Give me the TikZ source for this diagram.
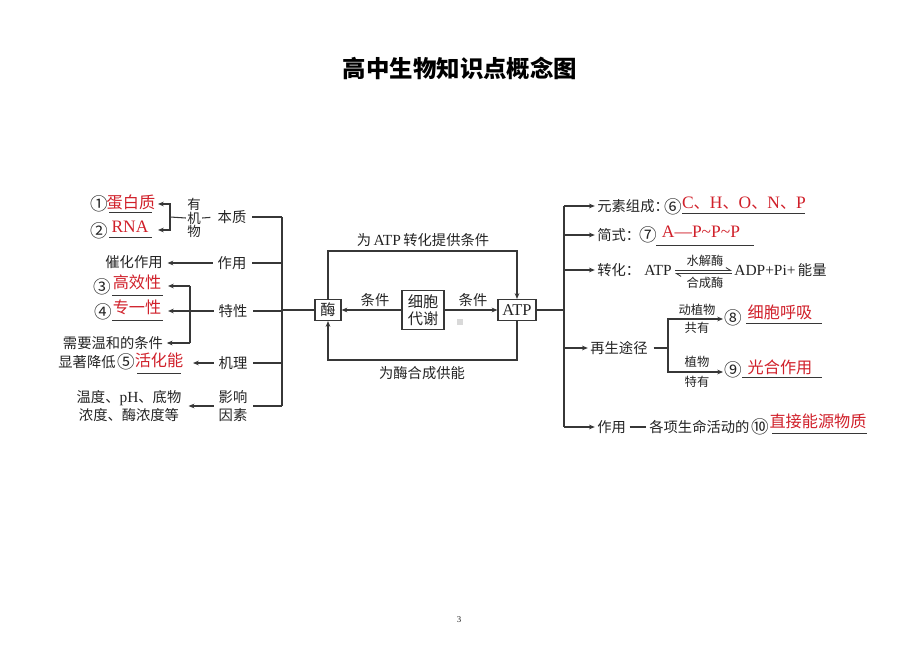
\documentclass[tikz,border=0pt]{standalone}
\usepackage{fontspec}
\setmainfont{Noto Sans CJK SC}
\newfontfamily\latfont[Scale=1.08]{Liberation Serif}
\usetikzlibrary{arrows.meta,positioning}
\definecolor{inkcol}{RGB}{35,35,35}
\definecolor{anscol}{RGB}{208,32,42}
\definecolor{linecol}{RGB}{55,55,55}
\newcommand{\lat}[1]{{\latfont #1}}

\begin{document}
\begin{tikzpicture}[x=0.03cm, y=-0.03cm,
  lbl/.style={font=\fontsize{12.2}{15}\selectfont, text=inkcol, inner sep=1pt},
  circ/.style={font=\fontsize{15}{16}\selectfont, text=inkcol, inner sep=0pt},
  tiny/.style={font=\fontsize{10.5}{12}\selectfont, text=inkcol, inner sep=1pt},
  ans/.style={font=\fontsize{13.8}{16}\selectfont, text=anscol, inner sep=1pt},
  box/.style={draw=linecol, line width=0.9pt, font=\fontsize{13}{15}\selectfont, text=inkcol, inner sep=1pt, align=center},
  conn/.style={draw=linecol, line width=0.9pt},
  arr/.style={conn, -{Stealth[length=5pt, width=4pt]}},
  blank/.style={draw=linecol, line width=0.7pt}
]
% Set the page size
\useasboundingbox (0,0) rectangle (920,651);
\node[font=\fontsize{20}{24}\selectfont\bfseries] (title) at (460,68) {高中生物知识点概念图};
\node[font=\fontsize{7}{8}\selectfont, text=inkcol] (pagenum) at (459,620) {\lat{3}};

% Left branch: enzyme
\coordinate (lt) at (282,0);
\node[lbl] (benzhi) at (232,217) {本质};
\node[lbl, font=\fontsize{11.5}{11.8}\selectfont, align=center] (youji) at (194,218) {有\\机\\物};
\node[circ] (c1) at (99,204) {①};
\node[ans] (a1) at (131,202) {蛋白质};
\node[circ] (c2) at (99,231) {②};
\node[ans] (a2) at (130,227) {\lat{RNA}};
\draw[blank] (109,212) -- (152,212);
\draw[blank] (109,237) -- (152,237);
\coordinate (b1) at (170,217);
\coordinate (t1) at (158,204);
\coordinate (t2) at (158,230);
\draw[conn] (youji.west) -- (b1);
\draw[arr] (b1) |- (t1);
\draw[arr] (b1) |- (t2);
\draw[conn, shorten >=5pt] (youji.east) -- (benzhi.west);

\node[lbl] (zuoyong) at (232,263) {作用};
\node[lbl] (cuihua) at (134,262) {催化作用};
\draw[arr, shorten <=3pt, shorten >=3pt] (zuoyong.west) -- (zuoyong.west -| cuihua.east);

\node[lbl] (texing) at (233,311) {特性};
\node[circ] (c3) at (102,287) {③};
\node[ans] (a3) at (137,282) {高效性};
\node[circ] (c4) at (103,312) {④};
\node[ans] (a4) at (137,307) {专一性};
\node[lbl] (wenhe) at (113,343) {需要温和的条件};
\draw[blank] (112,295) -- (163,295);
\draw[blank] (112,320) -- (163,320);
\coordinate (t4) at (168,311);
\coordinate (b3) at (190,286);
\coordinate (b4) at (190,343);
\coordinate (t3) at (168,286);
\draw[arr, shorten <=3pt] (texing.west) -- (t4);
\draw[conn] (b3) -- (b4);
\draw[arr] (b3) -- (t3);
\draw[arr, shorten >=2pt] (b4) -- (wenhe.east);

\node[lbl] (jili) at (233,363) {机理};
\node[lbl] (xianzhu) at (87,362) {显著降低};
\node[circ] (c5) at (126,362) {⑤};
\node[ans] (a5) at (159,360) {活化能};
\draw[blank] (137,373) -- (181,373);
\coordinate (t5) at (193,363);
\draw[arr, shorten <=3pt] (jili.west) -- (t5);

\node[lbl, align=center, font=\fontsize{12.2}{16}\selectfont] (yingxiang) at (233,406) {影响\\因素};
\node[lbl, align=center, font=\fontsize{12.2}{16}\selectfont] (wendu) at (129,406) {温度、\lat{pH}、底物\\浓度、酶浓度等};
\draw[arr, shorten <=3pt, shorten >=5pt] (yingxiang.west) -- (yingxiang.west -| wendu.east);

\foreach \n in {benzhi,zuoyong,texing,jili,yingxiang}
  \draw[conn, shorten <=4pt] (\n.east) -- (\n.east -| lt);
\draw[conn] (benzhi.east -| lt) -- (yingxiang.east -| lt);

% Middle: enzyme, metabolism and ATP
\node[box, minimum width=0.78cm, minimum height=0.63cm] (mei) at (328,310) {酶};
\node[box, minimum width=1.26cm, minimum height=1.17cm] (daixie) at (423,310) {细胞\\代谢};
\node[box, minimum width=1.14cm, minimum height=0.63cm] (atp) at (517,310) {\lat{ATP}};
\draw[conn] (mei.west -| lt) -- (mei.west);
\coordinate (looptop) at (0,251);
\coordinate (loopbot) at (0,360);
\draw[arr] (mei.north) -- (mei.north |- looptop) -| (atp.north);
\draw[arr] (atp.south) -- (atp.south |- loopbot) -| (mei.south);
\node[lbl] (toplbl) at (423,240) {为\,\lat{ATP}\,转化提供条件};
\node[lbl] (botlbl) at (422,373) {为酶合成供能};
\draw[arr] (daixie.west) -- (mei.east);
\draw[arr] (daixie.east) -- (atp.west);
\node[lbl] (tj1) at (375,300) {条件};
\node[lbl] (tj2) at (473,300) {条件};
\fill[gray!30] (457,319) rectangle (463,325);

% Right branch: ATP
\coordinate (rt) at (564,0);
\draw[conn] (atp.east) -- (atp.east -| rt);
\node[lbl, anchor=west] (yuansu) at (596,206) {元素组成：};
\node[circ] (c6) at (673,207) {⑥};
\node[ans] (a6) at (744,203) {\lat{C}、\lat{H}、\lat{O}、\lat{N}、\lat{P}};
\draw[blank] (682,213) -- (805,213);

\node[lbl, anchor=west] (jianshi) at (596,235) {简式：};
\node[circ] (c7) at (648,235) {⑦};
\node[ans] (a7) at (701,232) {\lat{A—P\textasciitilde P\textasciitilde P}};
\draw[blank] (656,245) -- (754,245);

\node[lbl, anchor=west] (zhuanhua) at (596,270) {转化：};
\node[lbl] (atp2) at (658,270) {\lat{ATP}};
\coordinate (eqL) at (675,272);
\coordinate (eqR) at (732,272);
\draw[conn, line width=0.7pt, -{Straight Barb[left, length=4pt, width=5pt]}] ([yshift=1.3pt]eqL) -- ([yshift=1.3pt]eqR);
\draw[conn, line width=0.7pt, -{Straight Barb[left, length=4pt, width=5pt]}] ([yshift=-1.3pt]eqR) -- ([yshift=-1.3pt]eqL);
\node[tiny] (shuijie) at (705,261) {水解酶};
\node[tiny] (hecheng) at (705,283) {合成酶};
\node[lbl, anchor=west] (adp) at (733,270) {\lat{ADP+Pi+}\,能量};

\node[lbl, anchor=west] (zaisheng) at (589,348) {再生途径};
\coordinate (fork) at (668,348);
\coordinate (f1) at (668,319);
\coordinate (f2) at (668,372);
\coordinate (g1) at (723,319);
\coordinate (g2) at (723,372);
\draw[conn, shorten <=4pt] (zaisheng.east) -- (fork);
\draw[arr] (fork) -- (f1) -- (g1);
\draw[arr] (fork) -- (f2) -- (g2);
\node[tiny] (dongzhi) at (697,310) {动植物};
\node[tiny] (gongyou) at (697,328) {共有};
\node[tiny] (zhiwu) at (697,362) {植物};
\node[tiny] (teyou) at (697,382) {特有};
\node[circ] (c8) at (733,318) {⑧};
\node[ans] (a8) at (780,312) {细胞呼吸};
\draw[blank] (746,323) -- (822,323);
\node[circ] (c9) at (733,370) {⑨};
\node[ans] (a9) at (780,367) {光合作用};
\draw[blank] (742,377) -- (822,377);

\node[lbl, anchor=west] (zuoyong2) at (596,427) {作用};
\node[lbl, anchor=west] (gexiang) at (648,427) {各项生命活动的};
\draw[conn, shorten <=2pt, shorten >=2pt] (zuoyong2.east) -- (gexiang.west);
\node[circ] (c10) at (760,427) {⑩};
\node[ans] (a10) at (818,421) {直接能源物质};
\draw[blank] (772,433) -- (867,433);

\foreach \n in {yuansu,jianshi,zhuanhua,zaisheng,zuoyong2}
  \draw[arr, shorten >=1pt] (\n.west -| rt) -- (\n.west);
\draw[conn] (yuansu.west -| rt) -- (zuoyong2.west -| rt);
\end{tikzpicture}
\end{document}
